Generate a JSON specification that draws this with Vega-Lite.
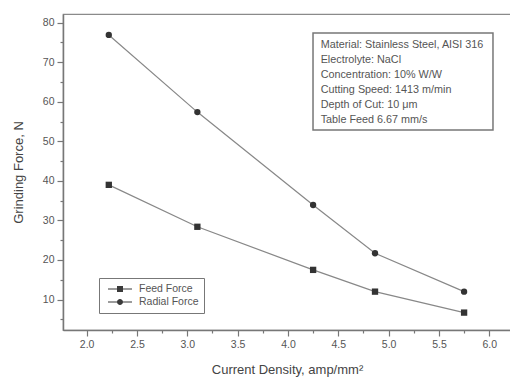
{
  "$schema": "https://vega.github.io/schema/vega-lite/v6.json",
  "width": 448,
  "height": 316,
  "autosize": "none",
  "padding": {"left": 63, "top": 14, "right": 0, "bottom": 51},
  "background": "white",
  "config": {
    "view": {"stroke": "#8a8a8a", "strokeWidth": 1.2},
    "font": "Liberation Sans",
    "axis": {
      "domainColor": "#777", "domainWidth": 1.5,
      "tickColor": "#777", "tickWidth": 1.2,
      "labelColor": "#555", "labelFontSize": 10.5, "labelPadding": 3,
      "titleColor": "#444", "titleFontSize": 13, "titleFontWeight": "normal",
      "grid": false
    }
  },
  "datasets": {
    "forces": [
      {"series": "Feed Force", "x": 2.22, "y": 39.0},
      {"series": "Feed Force", "x": 3.10, "y": 28.4},
      {"series": "Feed Force", "x": 4.25, "y": 17.5},
      {"series": "Feed Force", "x": 4.865, "y": 12.0},
      {"series": "Feed Force", "x": 5.75, "y": 6.7},
      {"series": "Radial Force", "x": 2.22, "y": 76.9},
      {"series": "Radial Force", "x": 3.10, "y": 57.4},
      {"series": "Radial Force", "x": 4.25, "y": 33.9},
      {"series": "Radial Force", "x": 4.865, "y": 21.7},
      {"series": "Radial Force", "x": 5.75, "y": 12.0}
    ],
    "note": [{"box": "annotation"}]
  },
  "layer": [
    {
      "data": {"name": "forces"},
      "mark": {"type": "line", "color": "#888", "strokeWidth": 1.2},
      "encoding": {
        "x": {
          "field": "x", "type": "quantitative",
          "scale": {"domain": [1.765, 6.216], "nice": false, "zero": false},
          "axis": {
            "title": "Current Density, amp/mm²",
            "values": [2, 2.25, 2.5, 2.75, 3, 3.25, 3.5, 3.75, 4, 4.25, 4.5, 4.75, 5, 5.25, 5.5, 5.75, 6],
            "labelExpr": "(datum.value*4) % 2 == 0 ? format(datum.value, '.1f') : ''",
            "tickSize": {"condition": {"test": "(datum.value*4) % 2 == 0", "value": 6}, "value": 3},
            "titlePadding": 14
          }
        },
        "y": {
          "field": "y", "type": "quantitative",
          "scale": {"domain": [2.3, 82.2], "nice": false, "zero": false},
          "axis": {
            "title": "Grinding Force, N",
            "values": [5, 10, 15, 20, 25, 30, 35, 40, 45, 50, 55, 60, 65, 70, 75, 80],
            "labelExpr": "datum.value % 10 == 0 ? format(datum.value, 'd') : ''",
            "tickSize": {"condition": {"test": "datum.value % 10 == 0", "value": 6}, "value": 3},
            "titlePadding": 17
          }
        },
        "detail": {"field": "series"}
      }
    },
    {
      "data": {"name": "forces"},
      "mark": {"type": "point", "filled": true, "color": "#333", "opacity": 1, "size": 40},
      "encoding": {
        "x": {
          "field": "x", "type": "quantitative",
          "scale": {"domain": [1.765, 6.216], "nice": false, "zero": false},
          "axis": {
            "title": "Current Density, amp/mm²",
            "values": [2, 2.25, 2.5, 2.75, 3, 3.25, 3.5, 3.75, 4, 4.25, 4.5, 4.75, 5, 5.25, 5.5, 5.75, 6],
            "labelExpr": "(datum.value*4) % 2 == 0 ? format(datum.value, '.1f') : ''",
            "tickSize": {"condition": {"test": "(datum.value*4) % 2 == 0", "value": 6}, "value": 3},
            "titlePadding": 14
          }
        },
        "y": {
          "field": "y", "type": "quantitative",
          "scale": {"domain": [2.3, 82.2], "nice": false, "zero": false},
          "axis": {
            "title": "Grinding Force, N",
            "values": [5, 10, 15, 20, 25, 30, 35, 40, 45, 50, 55, 60, 65, 70, 75, 80],
            "labelExpr": "datum.value % 10 == 0 ? format(datum.value, 'd') : ''",
            "tickSize": {"condition": {"test": "datum.value % 10 == 0", "value": 6}, "value": 3},
            "titlePadding": 17
          }
        },
        "shape": {
          "field": "series", "type": "nominal",
          "scale": {"domain": ["Feed Force", "Radial Force"], "range": ["square", "circle"]},
          "legend": null
        }
      }
    },
    {
      "data": {"name": "forces"},
      "mark": {"type": "point", "filled": true, "color": "#3a3a3a", "opacity": 0},
      "encoding": {
        "x": {
          "field": "x", "type": "quantitative",
          "scale": {"domain": [1.765, 6.216], "nice": false, "zero": false},
          "axis": {
            "title": "Current Density, amp/mm²",
            "values": [2, 2.25, 2.5, 2.75, 3, 3.25, 3.5, 3.75, 4, 4.25, 4.5, 4.75, 5, 5.25, 5.5, 5.75, 6],
            "labelExpr": "(datum.value*4) % 2 == 0 ? format(datum.value, '.1f') : ''",
            "tickSize": {"condition": {"test": "(datum.value*4) % 2 == 0", "value": 6}, "value": 3},
            "titlePadding": 14
          }
        },
        "y": {
          "field": "y", "type": "quantitative",
          "scale": {"domain": [2.3, 82.2], "nice": false, "zero": false},
          "axis": {
            "title": "Grinding Force, N",
            "values": [5, 10, 15, 20, 25, 30, 35, 40, 45, 50, 55, 60, 65, 70, 75, 80],
            "labelExpr": "datum.value % 10 == 0 ? format(datum.value, 'd') : ''",
            "tickSize": {"condition": {"test": "datum.value % 10 == 0", "value": 6}, "value": 3},
            "titlePadding": 17
          }
        },
        "shape": {
          "field": "series", "type": "nominal",
          "scale": {
            "domain": ["Feed Force", "Radial Force"],
            "range": [
              "M-2,-0.1H2V0.1H-2Z M-0.5,-0.5H0.5V0.5H-0.5Z",
              "M-2,-0.1H2V0.1H-2Z M-0.5,0A0.5,0.5 0 1,1 0.5,0A0.5,0.5 0 1,1 -0.5,0Z"
            ]
          },
          "legend": {
            "title": null,
            "orient": "none",
            "legendX": 36,
            "legendY": 264,
            "strokeColor": "#777",
            "padding": 5,
            "rowPadding": 1,
            "symbolSize": 144,
            "symbolOffset": 10,
            "symbolStrokeWidth": 0,
            "symbolFillColor": "#3a3a3a",
            "symbolOpacity": 1,
            "labelFontSize": 10.5,
            "labelColor": "#555",
            "labelOffset": 13,
            "encode": {
              "symbols": {
                "update": {
                  "fill": {"value": "#3a3a3a"},
                  "opacity": {"value": 1}
                }
              }
            }
          }
        }
      }
    },
    {
      "data": {"name": "note"},
      "mark": {"type": "rect", "fill": "white", "stroke": "#777", "strokeWidth": 1.5},
      "encoding": {
        "x": {
          "datum": 4.249, "type": "quantitative",
          "scale": {"domain": [1.765, 6.216], "nice": false, "zero": false},
          "axis": {
            "title": "Current Density, amp/mm²",
            "values": [2, 2.25, 2.5, 2.75, 3, 3.25, 3.5, 3.75, 4, 4.25, 4.5, 4.75, 5, 5.25, 5.5, 5.75, 6],
            "labelExpr": "(datum.value*4) % 2 == 0 ? format(datum.value, '.1f') : ''",
            "tickSize": {"condition": {"test": "(datum.value*4) % 2 == 0", "value": 6}, "value": 3},
            "titlePadding": 14
          }
        },
        "x2": {"datum": 6.037},
        "y": {
          "datum": 77.4, "type": "quantitative",
          "scale": {"domain": [2.3, 82.2], "nice": false, "zero": false},
          "axis": {
            "title": "Grinding Force, N",
            "values": [5, 10, 15, 20, 25, 30, 35, 40, 45, 50, 55, 60, 65, 70, 75, 80],
            "labelExpr": "datum.value % 10 == 0 ? format(datum.value, 'd') : ''",
            "tickSize": {"condition": {"test": "datum.value % 10 == 0", "value": 6}, "value": 3},
            "titlePadding": 17
          }
        },
        "y2": {"datum": 52.9}
      }
    },
    {
      "data": {"name": "note"},
      "mark": {
        "type": "text",
        "align": "left",
        "baseline": "middle",
        "fontSize": 10.8,
        "color": "#555",
        "lineHeight": 15,
        "text": [
          "Material: Stainless Steel, AISI 316",
          "Electrolyte: NaCl",
          "Concentration: 10% W/W",
          "Cutting Speed: 1413 m/min",
          "Depth of Cut: 10 μm",
          "Table Feed 6.67 mm/s"
        ]
      },
      "encoding": {
        "x": {
          "datum": 4.325, "type": "quantitative",
          "scale": {"domain": [1.765, 6.216], "nice": false, "zero": false},
          "axis": {
            "title": "Current Density, amp/mm²",
            "values": [2, 2.25, 2.5, 2.75, 3, 3.25, 3.5, 3.75, 4, 4.25, 4.5, 4.75, 5, 5.25, 5.5, 5.75, 6],
            "labelExpr": "(datum.value*4) % 2 == 0 ? format(datum.value, '.1f') : ''",
            "tickSize": {"condition": {"test": "(datum.value*4) % 2 == 0", "value": 6}, "value": 3},
            "titlePadding": 14
          }
        },
        "y": {
          "datum": 74.4, "type": "quantitative",
          "scale": {"domain": [2.3, 82.2], "nice": false, "zero": false},
          "axis": {
            "title": "Grinding Force, N",
            "values": [5, 10, 15, 20, 25, 30, 35, 40, 45, 50, 55, 60, 65, 70, 75, 80],
            "labelExpr": "datum.value % 10 == 0 ? format(datum.value, 'd') : ''",
            "tickSize": {"condition": {"test": "datum.value % 10 == 0", "value": 6}, "value": 3},
            "titlePadding": 17
          }
        }
      }
    }
  ],
  "resolve": {"scale": {"shape": "independent"}}
}
